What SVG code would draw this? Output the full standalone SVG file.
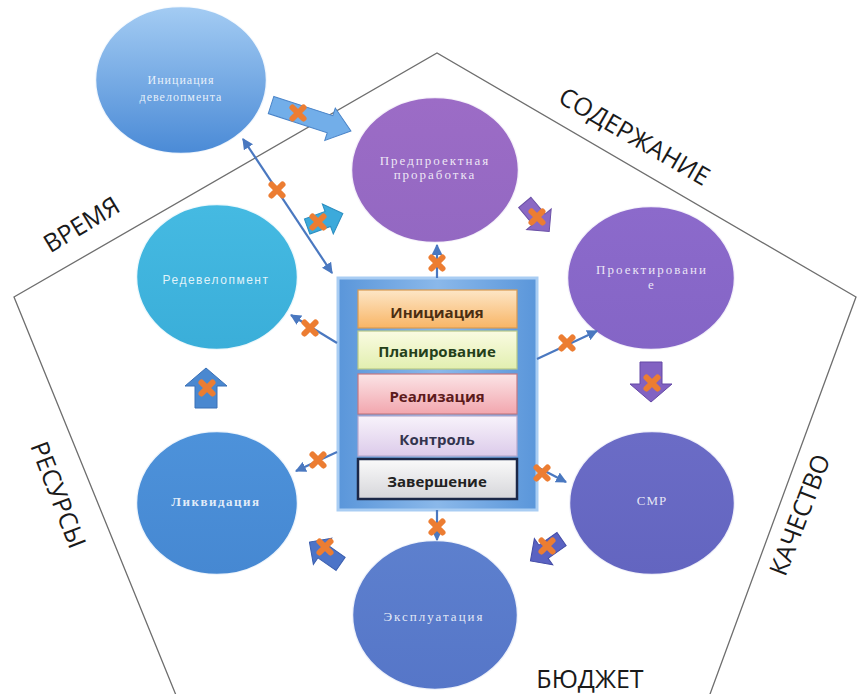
<svg xmlns="http://www.w3.org/2000/svg" width="863" height="694" viewBox="0 0 863 694">
<defs>
<style>
.side{font-family:"Open Sans","Noto Sans","Liberation Sans",sans-serif;font-size:25px;fill:#1a1a1a;text-anchor:middle}
.ct{font-family:"Liberation Serif","DejaVu Serif",serif;font-size:13px;letter-spacing:2px;fill:#ffffff;fill-opacity:0.85;text-anchor:middle}
.cts{font-family:"Liberation Sans","DejaVu Sans",sans-serif;font-size:12px;letter-spacing:1.5px;fill:#ffffff;fill-opacity:0.85;text-anchor:middle}
.bt{font-family:"Open Sans","Noto Sans","Liberation Sans",sans-serif;font-size:15px;font-weight:bold;text-anchor:middle}
.circ{stroke:#ffffff;stroke-width:2.5;stroke-opacity:0.9}
.con{stroke:#4a78c0;stroke-width:2.2;fill:none}
.bar{stroke-width:1.2}
</style>
<linearGradient id="gInit" x1="0" y1="0" x2="0" y2="1"><stop offset="0" stop-color="#a4ccf3"/><stop offset="1" stop-color="#4a8ad6"/></linearGradient>
<linearGradient id="gPre" x1="0" y1="0" x2="0" y2="1"><stop offset="0" stop-color="#9c6cc6"/><stop offset="1" stop-color="#9368c2"/></linearGradient>
<linearGradient id="gPro" x1="0" y1="0" x2="0" y2="1"><stop offset="0" stop-color="#8c6acb"/><stop offset="1" stop-color="#8465c6"/></linearGradient>
<linearGradient id="gSmr" x1="0" y1="0" x2="0" y2="1"><stop offset="0" stop-color="#6b6cc6"/><stop offset="1" stop-color="#6365c0"/></linearGradient>
<linearGradient id="gExp" x1="0" y1="0" x2="0" y2="1"><stop offset="0" stop-color="#5d80ce"/><stop offset="1" stop-color="#5676c8"/></linearGradient>
<linearGradient id="gLiq" x1="0" y1="0" x2="0" y2="1"><stop offset="0" stop-color="#4d92da"/><stop offset="1" stop-color="#4688d2"/></linearGradient>
<linearGradient id="gRed" x1="0" y1="0" x2="0" y2="1"><stop offset="0" stop-color="#45bae2"/><stop offset="1" stop-color="#3aaed9"/></linearGradient>
<linearGradient id="gBox" x1="0" y1="0" x2="1" y2="0"><stop offset="0" stop-color="#5a96da"/><stop offset="0.5" stop-color="#8ab8ea"/><stop offset="1" stop-color="#5a96da"/></linearGradient>
<linearGradient id="b1" x1="0" y1="0" x2="0" y2="1"><stop offset="0" stop-color="#fde6c6"/><stop offset="1" stop-color="#f8b566"/></linearGradient>
<linearGradient id="b2" x1="0" y1="0" x2="0" y2="1"><stop offset="0" stop-color="#fafbe2"/><stop offset="1" stop-color="#e2efb0"/></linearGradient>
<linearGradient id="b3" x1="0" y1="0" x2="0" y2="1"><stop offset="0" stop-color="#fbe4e6"/><stop offset="1" stop-color="#f2a6ae"/></linearGradient>
<linearGradient id="b4" x1="0" y1="0" x2="0" y2="1"><stop offset="0" stop-color="#f8f3fb"/><stop offset="1" stop-color="#dccbea"/></linearGradient>
<linearGradient id="b5" x1="0" y1="0" x2="0" y2="1"><stop offset="0" stop-color="#fafafa"/><stop offset="1" stop-color="#d6d6da"/></linearGradient>
<marker id="ah" viewBox="0 0 10 10" refX="9" refY="5" markerWidth="5" markerHeight="5" orient="auto-start-reverse" markerUnits="strokeWidth"><path d="M0,0 L10,5 L0,10 Z" fill="#4a78c0"/></marker>
<symbol id="x" viewBox="-9 -9 18 18" width="18" height="18" overflow="visible"><path d="M-5.5,-5.5 L5.5,5.5 M5.5,-5.5 L-5.5,5.5" stroke="#ec7d32" stroke-width="6" stroke-linecap="round"/></symbol>
<path id="arS" d="M-19,-8 L3,-8 L3,-16 L19,0 L3,16 L3,8 L-19,8 Z"/>
<path id="arL" d="M-42,-9 L20,-9 L20,-17 L42,0 L20,17 L20,9 L-42,9 Z"/>
<path id="arD" d="M-20,-11 L2,-11 L2,-21 L20,0 L2,21 L2,11 L-20,11 Z"/>
</defs>
<rect width="863" height="694" fill="#ffffff"/>
<polyline points="180,705 14,297 437,53 856,297 706,705" fill="none" stroke="#6e6e6e" stroke-width="1.3"/>
<g id="labels">
<text class="side" transform="translate(86,232) rotate(-31)">ВРЕМЯ</text>
<text class="side" transform="translate(630,144) rotate(30)">СОДЕРЖАНИЕ</text>
<text class="side" transform="translate(50,498) rotate(69)">РЕСУРСЫ</text>
<text class="side" transform="translate(808,518) rotate(-69)">КАЧЕСТВО</text>
<text class="side" x="590" y="688">БЮДЖЕТ</text>
</g>
<g id="n-init"><ellipse class="circ" cx="181" cy="80" rx="86" ry="74" fill="url(#gInit)"/><text class="ct" x="181" y="84" style="font-size:12px;letter-spacing:1px">Инициация</text><text class="ct" x="181" y="101" style="font-size:12px;letter-spacing:1px">девелопмента</text></g>
<g id="n-pre"><ellipse class="circ" cx="435" cy="170" rx="84" ry="73" fill="url(#gPre)"/><text class="ct" x="435" y="165">Предпроектная</text><text class="ct" x="435" y="179">проработка</text></g>
<g id="n-pro"><ellipse class="circ" cx="651" cy="278" rx="84" ry="72" fill="url(#gPro)"/><text class="ct" x="652" y="274">Проектировани</text><text class="ct" x="652" y="289">е</text></g>
<g id="n-smr"><ellipse class="circ" cx="652" cy="503" rx="83" ry="72" fill="url(#gSmr)"/><text class="ct" x="652" y="505" style="letter-spacing:1px">СМР</text></g>
<g id="n-exp"><ellipse class="circ" cx="435" cy="615" rx="83" ry="75" fill="url(#gExp)"/><text class="ct" x="434" y="621">Эксплуатация</text></g>
<g id="n-liq"><ellipse class="circ" cx="217" cy="503" rx="81" ry="72" fill="url(#gLiq)"/><text class="ct" x="216" y="506" style="font-weight:bold;letter-spacing:1.5px">Ликвидация</text></g>
<g id="n-red"><ellipse class="circ" cx="217" cy="277" rx="81" ry="73" fill="url(#gRed)"/><text class="cts" x="216" y="284">Редевелопмент</text></g>
<g id="n-box">
<rect x="338" y="278" width="199" height="232" fill="url(#gBox)" stroke="#a9cdf3" stroke-width="3"/>
<rect class="bar" x="358" y="290" width="159" height="38" fill="url(#b1)" stroke="#d99a50"/>
<text class="bt" x="437" y="318" fill="#4a2e12">Инициация</text>
<rect class="bar" x="358" y="331" width="159" height="38" fill="url(#b2)" stroke="#b8c888"/>
<text class="bt" x="437" y="357" fill="#24401a">Планирование</text>
<rect class="bar" x="358" y="374" width="159" height="40" fill="url(#b3)" stroke="#c57880"/>
<text class="bt" x="437" y="402" fill="#5c1a1c">Реализация</text>
<rect class="bar" x="358" y="416" width="159" height="40" fill="url(#b4)" stroke="#b8a8cc"/>
<text class="bt" x="437" y="445" fill="#33344e">Контроль</text>
<rect x="358" y="459" width="159" height="40" fill="url(#b5)" stroke="#1c2848" stroke-width="2.5"/>
<text class="bt" x="437" y="487" fill="#222222">Завершение</text>
</g>
<g id="connectors">
<line class="con" x1="437" y1="278" x2="437" y2="245" marker-end="url(#ah)"/>
<line class="con" x1="337" y1="343" x2="291" y2="315" marker-end="url(#ah)"/>
<line class="con" x1="537" y1="359" x2="597" y2="331" marker-end="url(#ah)"/>
<line class="con" x1="337" y1="452" x2="296" y2="471" marker-end="url(#ah)"/>
<line class="con" x1="537" y1="467" x2="566" y2="482" marker-end="url(#ah)"/>
<line class="con" x1="437" y1="510" x2="437" y2="540" marker-end="url(#ah)"/>
<line class="con" x1="243" y1="139" x2="332" y2="273" marker-start="url(#ah)" marker-end="url(#ah)"/>
<use href="#arL" transform="translate(311,118) rotate(18)" fill="#72aee9" stroke="#4a84c8" stroke-width="1"/>
<use href="#arS" transform="translate(325,220) rotate(-20)" fill="#3caadb" stroke="#2c8ec0" stroke-width="1"/>
<use href="#arS" transform="translate(537,217) rotate(50)" fill="#8a68c4" stroke="#6a50a6" stroke-width="1"/>
<use href="#arD" transform="translate(651,382) rotate(90)" fill="#8262c2" stroke="#6448a6" stroke-width="1"/>
<use href="#arS" transform="translate(546,550) rotate(145)" fill="#5a62c2" stroke="#444ca6" stroke-width="1"/>
<use href="#arS" transform="translate(325,553) rotate(-145)" fill="#4c74c8" stroke="#3a5eae" stroke-width="1"/>
<use href="#arD" transform="translate(206,388) rotate(-90)" fill="#4a88d0" stroke="#3a70b6" stroke-width="1"/>
<use href="#x" x="428" y="254"/>
<use href="#x" x="301" y="319"/>
<use href="#x" x="558" y="334"/>
<use href="#x" x="309" y="451"/>
<use href="#x" x="533" y="464"/>
<use href="#x" x="428" y="518"/>
<use href="#x" x="268" y="181"/>
<use href="#x" x="289" y="104"/>
<use href="#x" x="309" y="213"/>
<use href="#x" x="528" y="208"/>
<use href="#x" x="643" y="374"/>
<use href="#x" x="538" y="537"/>
<use href="#x" x="316" y="538"/>
<use href="#x" x="198" y="379"/>
</g>
</svg>
